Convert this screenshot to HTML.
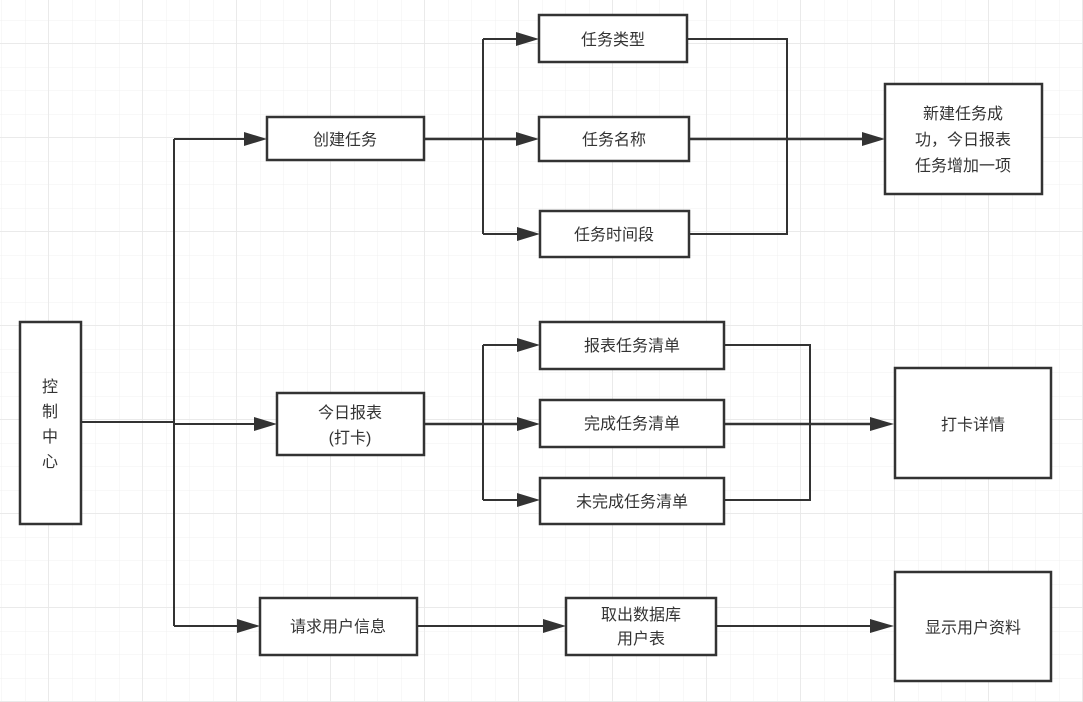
<!DOCTYPE html>
<html><head><meta charset="utf-8"><style>
html,body{margin:0;padding:0;background:#fff;}
svg{display:block;}
text{font-family:"Liberation Sans","Noto Sans CJK SC",sans-serif;font-size:16px;fill:#333;}
</style></head><body>
<svg width="1083" height="702" viewBox="0 0 1083 702" xmlns="http://www.w3.org/2000/svg">
<defs>
<pattern id="g" x="1.5" y="-3.5" width="23.5" height="23.5" patternUnits="userSpaceOnUse">
<path d="M0 0H23.5M0 0V23.5" stroke="#f0f0f0" stroke-width="1" fill="none"/>
</pattern>
<pattern id="G" x="48" y="43" width="94" height="94" patternUnits="userSpaceOnUse">
<path d="M0 0H94M0 0V94" stroke="#e6e6e6" stroke-width="1.2" fill="none"/>
</pattern>
<marker id="a" markerWidth="10" markerHeight="10" refX="10" refY="5" orient="auto" markerUnits="userSpaceOnUse" viewBox="0 0 10 10">
</marker>
</defs>
<rect width="1083" height="702" fill="#fff"/>
<rect width="1083" height="702" fill="url(#g)"/>
<rect width="1083" height="702" fill="url(#G)"/>
<g stroke="#333" stroke-width="2" fill="none">
<!-- trunk -->
<path d="M81 422H174"/>
<path d="M174 139V626"/>
<path d="M174 139H245"/>
<path d="M174 424H255"/>
<path d="M174 626H238"/>
<!-- create task branch -->
<path d="M424 139H518" stroke-width="2.5"/>
<path d="M483 39V234"/>
<path d="M483 39H518M483 234H518"/>
<path d="M687 39H787V234H689"/>
<path d="M689 139H864" stroke-width="2.5"/>
<!-- report branch -->
<path d="M424 424H518" stroke-width="2.5"/>
<path d="M483 345V500"/>
<path d="M483 345H518M483 500H518"/>
<path d="M724 345H810V500H724"/>
<path d="M724 424H872" stroke-width="2.5"/>
<!-- user -->
<path d="M417 626H545"/>
<path d="M716 626H872"/>
</g>
<g fill="#333">
<polygon points="267,139 244,132 244,146"/>
<polygon points="277,424 254,417 254,431"/>
<polygon points="260,626 237,619 237,633"/>
<polygon points="539,39 516,32 516,46"/>
<polygon points="539,139 516,132 516,146"/>
<polygon points="540,234 517,227 517,241"/>
<polygon points="540,345 517,338 517,352"/>
<polygon points="540,424 517,417 517,431"/>
<polygon points="540,500 517,493 517,507"/>
<polygon points="885,139 862,132 862,146"/>
<polygon points="894,424 870,417 870,431"/>
<polygon points="566,626 543,619 543,633"/>
<polygon points="894,626 870,619 870,633"/>
</g>
<g stroke="#333" stroke-width="2.5" fill="#fff">
<rect x="20" y="322" width="61" height="202"/>
<rect x="267" y="117" width="157" height="43"/>
<rect x="539" y="15" width="148" height="47"/>
<rect x="539" y="117" width="150" height="44"/>
<rect x="540" y="211" width="149" height="46"/>
<rect x="885" y="84" width="157" height="110"/>
<rect x="277" y="393" width="147" height="62"/>
<rect x="540" y="322" width="184" height="47"/>
<rect x="540" y="400" width="184" height="47"/>
<rect x="540" y="478" width="184" height="46"/>
<rect x="895" y="368" width="156" height="110"/>
<rect x="260" y="598" width="157" height="57"/>
<rect x="566" y="598" width="150" height="57"/>
<rect x="895" y="572" width="156" height="109"/>
</g>
<g text-anchor="middle">
<text x="50" y="392">控</text>
<text x="50" y="417">制</text>
<text x="50" y="442">中</text>
<text x="50" y="467">心</text>
<text x="345" y="145">创建任务</text>
<text x="613" y="45">任务类型</text>
<text x="614" y="145">任务名称</text>
<text x="614" y="240">任务时间段</text>
<text x="963" y="119">新建任务成</text>
<text x="963" y="145">功，今日报表</text>
<text x="963" y="171">任务增加一项</text>
<text x="350" y="418">今日报表</text>
<text x="350" y="443">(打卡)</text>
<text x="632" y="351">报表任务清单</text>
<text x="632" y="429">完成任务清单</text>
<text x="632" y="507">未完成任务清单</text>
<text x="973" y="430">打卡详情</text>
<text x="338" y="632">请求用户信息</text>
<text x="641" y="620">取出数据库</text>
<text x="641" y="644">用户表</text>
<text x="973" y="633">显示用户资料</text>
</g>
</svg>
</body></html>
